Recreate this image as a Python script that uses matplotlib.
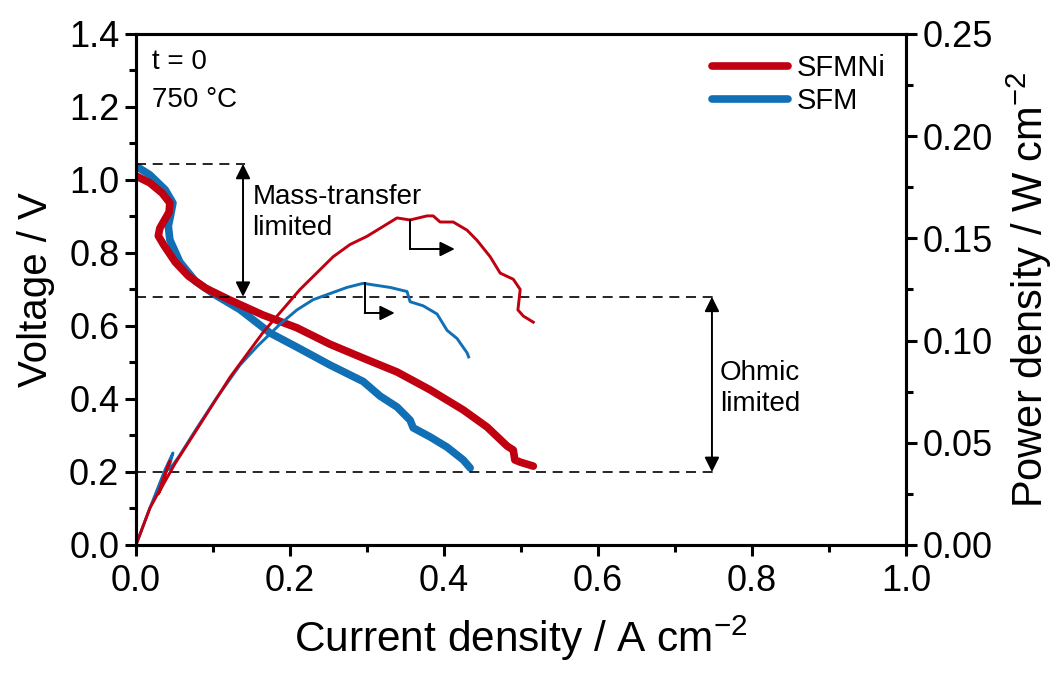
import numpy as np
import matplotlib
matplotlib.use('Agg')
import matplotlib.pyplot as plt
from matplotlib.ticker import MultipleLocator

plt.rcParams['font.family'] = ['Liberation Sans', 'DejaVu Sans']
plt.rcParams['mathtext.default'] = 'regular'

# --- dados ---
# curva de tensão (V) vs densidade de corrente (A cm-2)
i_v_sfmni = [0, 0.018, 0.034, 0.044, 0.043, 0.031, 0.029, 0.036, 0.051, 0.068, 0.090,
             0.122, 0.165, 0.209, 0.252, 0.295, 0.339, 0.382, 0.425, 0.456, 0.482,
             0.490, 0.492, 0.499, 0.516]
v_sfmni = [1.011, 0.992, 0.964, 0.937, 0.912, 0.868, 0.847, 0.822, 0.775, 0.737, 0.704,
           0.671, 0.630, 0.595, 0.550, 0.512, 0.474, 0.425, 0.370, 0.323, 0.271,
           0.260, 0.233, 0.227, 0.216]

i_v_sfm = [0, 0.018, 0.038, 0.048, 0.045, 0.042, 0.044, 0.057, 0.077, 0.103, 0.135,
           0.174, 0.209, 0.252, 0.295, 0.317, 0.339, 0.356, 0.360, 0.382, 0.404,
           0.425, 0.434]
v_sfm = [1.038, 1.014, 0.973, 0.937, 0.904, 0.874, 0.836, 0.775, 0.723, 0.685, 0.645,
         0.581, 0.542, 0.493, 0.448, 0.408, 0.378, 0.342, 0.321, 0.296, 0.268,
         0.233, 0.211]

# densidade de potência (W cm-2)
i_p_sfmni = [0, 0.018, 0.031, 0.044, 0.036, 0.029, 0.036, 0.051, 0.068, 0.090, 0.122,
             0.165, 0.213, 0.256, 0.278, 0.300, 0.339, 0.356, 0.378, 0.386, 0.395,
             0.412, 0.430, 0.443, 0.460, 0.473, 0.490, 0.499, 0.496, 0.503, 0.516]
p_sfmni = [0, 0.018, 0.027, 0.041, 0.033, 0.025, 0.030, 0.040, 0.050, 0.063, 0.082,
           0.104, 0.125, 0.141, 0.147, 0.151, 0.160, 0.159, 0.161, 0.161, 0.158,
           0.158, 0.154, 0.149, 0.141, 0.133, 0.130, 0.125, 0.115, 0.112, 0.109]

i_p_sfm = [0, 0.018, 0.038, 0.048, 0.045, 0.042, 0.044, 0.057, 0.077, 0.103, 0.135,
           0.157, 0.187, 0.209, 0.230, 0.252, 0.274, 0.295, 0.330, 0.352, 0.356,
           0.373, 0.391, 0.404, 0.417, 0.430, 0.432]
p_sfm = [0, 0.018, 0.037, 0.045, 0.041, 0.037, 0.037, 0.044, 0.056, 0.071, 0.088,
         0.097, 0.108, 0.115, 0.120, 0.123, 0.126, 0.128, 0.126, 0.124, 0.119,
         0.117, 0.113, 0.105, 0.101, 0.094, 0.092]

# níveis das linhas tracejadas (V) e posição das setas
v_ocv = 1.044
v_mt = 0.68
v_ohm = 0.20
i_seta_mt = 0.139
i_seta_ohm = 0.748

RED = '#C00010'
BLUE = '#1170B5'

fig = plt.figure(figsize=(10.64, 6.78), dpi=100)
ax1 = fig.add_axes([0.1278, 0.1962, 0.7237, 0.7537])
ax2 = ax1.twinx()

ax1.plot(i_v_sfm, v_sfm, color=BLUE, lw=5.5, solid_capstyle='round', solid_joinstyle='round', label='SFM')
ax1.plot(i_v_sfmni, v_sfmni, color=RED, lw=5.5, solid_capstyle='round', solid_joinstyle='round', label='SFMNi')
ax2.plot(i_p_sfm, p_sfm, color=BLUE, lw=2.1, solid_joinstyle='round')
ax2.plot(i_p_sfmni, p_sfmni, color=RED, lw=2.1, solid_joinstyle='round')

# linhas tracejadas
dash = (0, (6, 4))
ax1.plot([0, i_seta_mt + 0.002], [v_ocv, v_ocv], color='black', lw=1.2, ls=dash)
ax1.plot([0, i_seta_ohm + 0.002], [v_mt, v_mt], color='black', lw=1.2, ls=dash)
ax1.plot([0, i_seta_ohm + 0.002], [v_ohm, v_ohm], color='black', lw=1.2, ls=dash)

# setas duplas
seta = dict(arrowstyle='<|-|>', color='black', lw=1.4, mutation_scale=22, shrinkA=0, shrinkB=0)
ax1.annotate('', xy=(i_seta_mt, v_ocv), xytext=(i_seta_mt, v_mt), arrowprops=seta)
ax1.annotate('', xy=(i_seta_ohm, v_mt), xytext=(i_seta_ohm, v_ohm), arrowprops=seta)

ax1.text(0.151, 0.91, 'Mass-transfer\nlimited', fontsize=20, va='center', ha='left', linespacing=1.25)
ax1.text(0.758, 0.43, 'Ohmic\nlimited', fontsize=20, va='center', ha='left', linespacing=1.25)
ax1.text(0.021, 1.323, 't = 0', fontsize=20, va='center', ha='left')
ax1.text(0.021, 1.219, '750 °C', fontsize=20, va='center', ha='left')

# setas em L indicando o eixo da potência
seta_l = dict(arrowstyle='-|>', color='black', lw=1.4, mutation_scale=22, shrinkA=0, shrinkB=0)
ax2.plot([0.356, 0.356], [0.159, 0.1448], color='black', lw=1.4)
ax2.annotate('', xy=(0.414, 0.1448), xytext=(0.356, 0.1448), arrowprops=seta_l)
ax2.plot([0.297, 0.297], [0.128, 0.1135], color='black', lw=1.4)
ax2.annotate('', xy=(0.336, 0.1135), xytext=(0.297, 0.1135), arrowprops=seta_l)

# eixos
ax1.set_xlim(0, 1.0)
ax1.set_ylim(0, 1.4)
ax2.set_ylim(0, 0.25)
ax1.xaxis.set_major_locator(MultipleLocator(0.2))
ax1.xaxis.set_minor_locator(MultipleLocator(0.1))
ax1.yaxis.set_major_locator(MultipleLocator(0.2))
ax1.yaxis.set_minor_locator(MultipleLocator(0.1))
ax2.yaxis.set_major_locator(MultipleLocator(0.05))
ax2.yaxis.set_minor_locator(MultipleLocator(0.025))
ax1.xaxis.set_major_formatter(plt.FormatStrFormatter('%.1f'))
ax1.yaxis.set_major_formatter(plt.FormatStrFormatter('%.1f'))
ax2.yaxis.set_major_formatter(plt.FormatStrFormatter('%.2f'))

for ax in (ax1, ax2):
    for s in ax.spines.values():
        s.set_linewidth(2.2)
    ax.tick_params(which='major', direction='out', length=8, width=2.2, labelsize=26, pad=4)
    ax.tick_params(which='minor', direction='out', length=5, width=2.2)
ax1.tick_params(axis='x', pad=6)
ax1.tick_params(top=False, right=False, which='both')

ax1.set_xlabel('Current density / A cm$^{-2}$', fontsize=30.5, labelpad=10)
ax1.set_ylabel('Voltage / V', fontsize=29, labelpad=10)
ax2.set_ylabel('Power density / W cm$^{-2}$', fontsize=30, labelpad=8)

h, l = ax1.get_legend_handles_labels()
ax1.legend(h[::-1], l[::-1], loc='upper right', frameon=False, fontsize=21,
           handlelength=2.6, handletextpad=0.3, labelspacing=0.15,
           borderaxespad=0.3, bbox_to_anchor=(1.0, 1.0))

fig.savefig('out.png', dpi=100)
